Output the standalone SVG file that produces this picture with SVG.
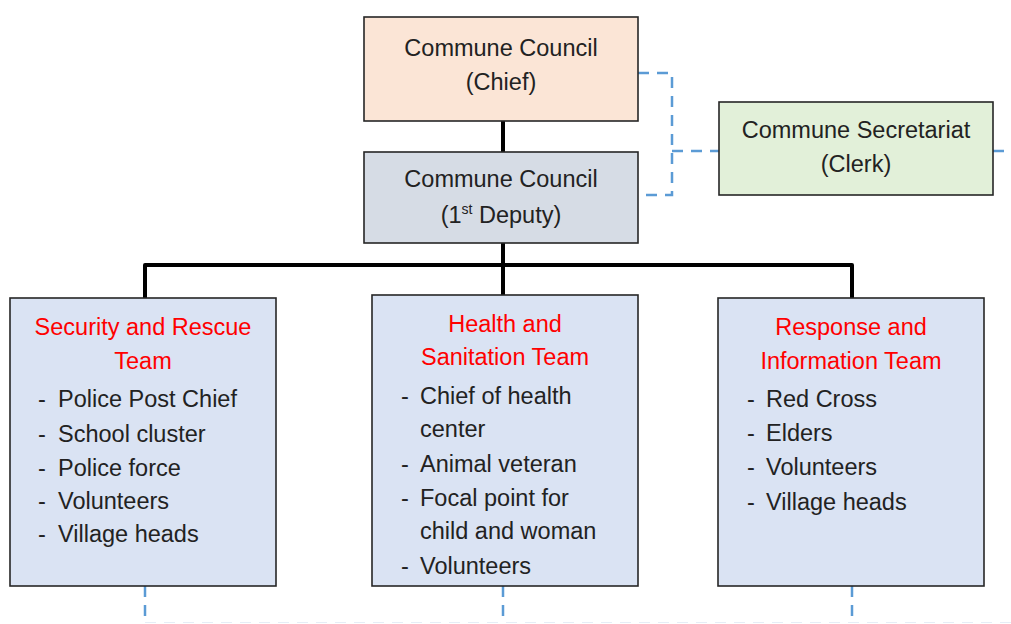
<svg xmlns="http://www.w3.org/2000/svg" width="1011" height="624" viewBox="0 0 1011 624">
<style>
text{font-family:"Liberation Sans",Arial,sans-serif;font-size:23.5px;fill:#222}
.c{text-anchor:middle}
.t{fill:#ff0000}
.box{stroke:#262626;stroke-width:1.6}
.solid{fill:none;stroke:#000;stroke-width:4;stroke-linejoin:round}
.dash{fill:none;stroke:#5b9bd5;stroke-width:2.5;stroke-dasharray:11 8}
</style>
<rect width="1011" height="624" fill="#fff"/>
<g id="connectors">
<path class="solid" d="M503 121V152"/>
<path class="solid" d="M503 243V265M145 298V265H852V298M503 265V295"/>
<path class="dash" d="M638 73H672V195H638"/>
<path class="dash" d="M672 151H719"/>
<path class="dash" d="M993 151H1011"/>
<path class="dash" d="M145 586V624M503 586V624M852 586V624"/>
<path d="M145 622.5H1011" stroke="#e6edf6" stroke-width="1" stroke-dasharray="11 8" fill="none"/>
</g>
<g id="chief">
<rect class="box" x="364" y="17" width="274" height="104" fill="#fbe5d6"/>
<text class="c" x="501" y="56">Commune Council</text>
<text class="c" x="501" y="90">(Chief)</text>
</g>
<g id="deputy">
<rect class="box" x="364" y="152" width="274" height="91" fill="#d6dce5"/>
<text class="c" x="501" y="187">Commune Council</text>
<text class="c" x="501" y="223">(1<tspan font-size="14" dy="-9">st</tspan><tspan dy="9"> Deputy)</tspan></text>
</g>
<g id="secretariat">
<rect class="box" x="719" y="102" width="274" height="93" fill="#e2f0d9"/>
<text class="c" x="856" y="138">Commune Secretariat</text>
<text class="c" x="856" y="172">(Clerk)</text>
</g>
<g id="security">
<rect class="box" x="10" y="298" width="266" height="288" fill="#dae3f3"/>
<text class="c t" x="143" y="335">Security and Rescue</text>
<text class="c t" x="143" y="369">Team</text>
<text x="38" y="407">-</text><text x="58" y="407">Police Post Chief</text>
<text x="38" y="442">-</text><text x="58" y="442">School cluster</text>
<text x="38" y="476">-</text><text x="58" y="476">Police force</text>
<text x="38" y="509">-</text><text x="58" y="509">Volunteers</text>
<text x="38" y="542">-</text><text x="58" y="542">Village heads</text>
</g>
<g id="health">
<rect class="box" x="372" y="295" width="266" height="291" fill="#dae3f3"/>
<text class="c t" x="505" y="332">Health and</text>
<text class="c t" x="505" y="365">Sanitation Team</text>
<text x="401" y="404">-</text><text x="420" y="404">Chief of health</text>
<text x="420" y="437">center</text>
<text x="401" y="472">-</text><text x="420" y="472">Animal veteran</text>
<text x="401" y="506">-</text><text x="420" y="506">Focal point for</text>
<text x="420" y="539">child and woman</text>
<text x="401" y="574">-</text><text x="420" y="574">Volunteers</text>
</g>
<g id="response">
<rect class="box" x="718" y="298" width="266" height="288" fill="#dae3f3"/>
<text class="c t" x="851" y="335">Response and</text>
<text class="c t" x="851" y="369">Information Team</text>
<text x="747" y="407">-</text><text x="766" y="407">Red Cross</text>
<text x="747" y="441">-</text><text x="766" y="441">Elders</text>
<text x="747" y="475">-</text><text x="766" y="475">Volunteers</text>
<text x="747" y="510">-</text><text x="766" y="510">Village heads</text>
</g>
</svg>
